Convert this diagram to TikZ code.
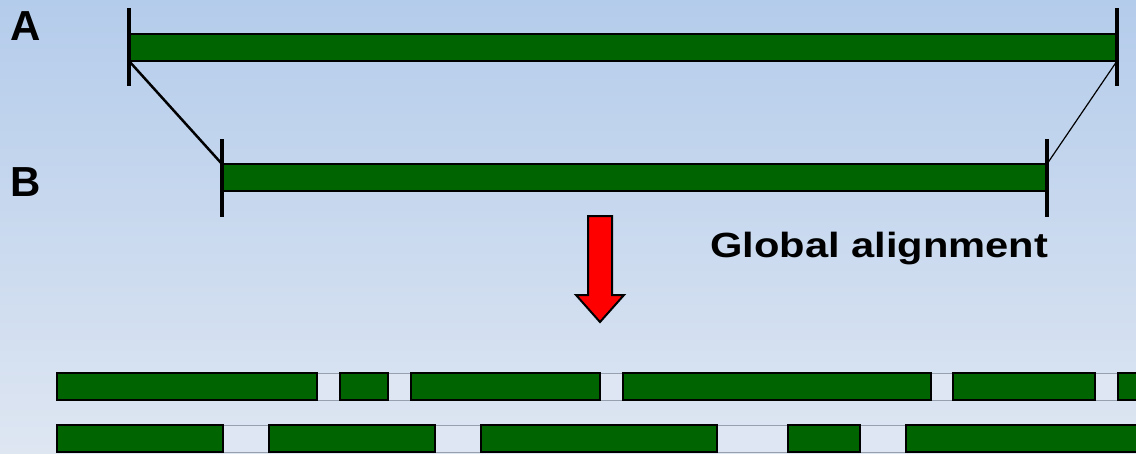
\documentclass[tikz,border=0pt]{standalone}
\usepackage{fontspec}
\setmainfont{Liberation Sans}
\definecolor{dkgreen}{RGB}{0,100,0}
\definecolor{bgtop}{RGB}{180,204,235}
\definecolor{bgbot}{RGB}{222,230,242}
\definecolor{gapfill}{RGB}{222,230,243}
\definecolor{gapgray}{RGB}{150,160,175}
\definecolor{arrowred}{RGB}{255,0,0}
\tikzset{
  bar/.style={draw=black, line width=2pt, fill=dkgreen, rectangle, inner sep=0pt, outer sep=0pt},
  gapbox/.style={draw=gapgray, line width=1pt, fill=gapfill, rectangle, inner sep=0pt, outer sep=0pt},
  tickline/.style={line width=4pt},
  lbl/.style={font=\fontsize{42}{48}\selectfont\bfseries, inner sep=0pt, anchor=base west},
  capt/.style={font=\fontsize{35}{42}\selectfont\bfseries, inner sep=0pt, anchor=base west},
  bigarrow/.style={draw=black, line width=2pt, fill=arrowred, line join=miter}
}
\begin{document}
\begin{tikzpicture}[x=1pt,y=-1pt]
\path[clip] (0,0) rectangle (1136,453);
\shade[top color=bgtop, bottom color=bgbot] (0,0) rectangle (1136,453);

% labels
\node[lbl] (labA) at (10,40) {A};
\node[lbl] (labB) at (10,196) {B};
\node[capt] (glob) at (710,257) {\scalebox{1.19}[1]{Global alignment}};

% sequence A and B
\node[bar, minimum width=988pt, minimum height=27pt] (barA) at (623,47.5) {};
\node[bar, minimum width=825pt, minimum height=27pt] (barB) at (634.5,177.5) {};

\draw[tickline] (barA.north west) ++(0,-26) -- ++(0,78);
\draw[tickline] (barA.north east) ++(0,-26) -- ++(0,78);
\draw[tickline] (barB.north west) ++(0,-25) -- ++(0,78);
\draw[tickline] (barB.north east) ++(0,-25) -- ++(0,78);

\draw[line width=2.5pt] (barA.south west) -- (barB.north west);
\draw[line width=1.2pt] (barA.south east) -- (barB.north east);

% arrow
\draw[bigarrow] (588,216) -- (612,216) -- (612,295) -- (624,295) -- (600,322)
  -- (576,295) -- (588,295) -- cycle;

% aligned rows: gaps
\foreach \a/\b [count=\i] in {317/340,388/411,600/623,931/953,1095/1118}
  \node[gapbox, anchor=north west, minimum width={\b pt-\a pt}, minimum height=27pt] (r1gap\i) at (\a,373) {};
\foreach \a/\b [count=\i] in {223/269,435/481,717/788,860/906}
  \node[gapbox, anchor=north west, minimum width={\b pt-\a pt}, minimum height=27pt] (r2gap\i) at (\a,425) {};
% aligned rows: segments
\foreach \a/\b [count=\i] in {57/317,340/388,411/600,623/931,953/1095,1118/1150}
  \node[bar, anchor=north west, minimum width={\b pt-\a pt}, minimum height=27pt] (r1seg\i) at (\a,373) {};
\foreach \a/\b [count=\i] in {57/223,269/435,481/717,788/860,906/1150}
  \node[bar, anchor=north west, minimum width={\b pt-\a pt}, minimum height=27pt] (r2seg\i) at (\a,425) {};
\end{tikzpicture}
\end{document}
